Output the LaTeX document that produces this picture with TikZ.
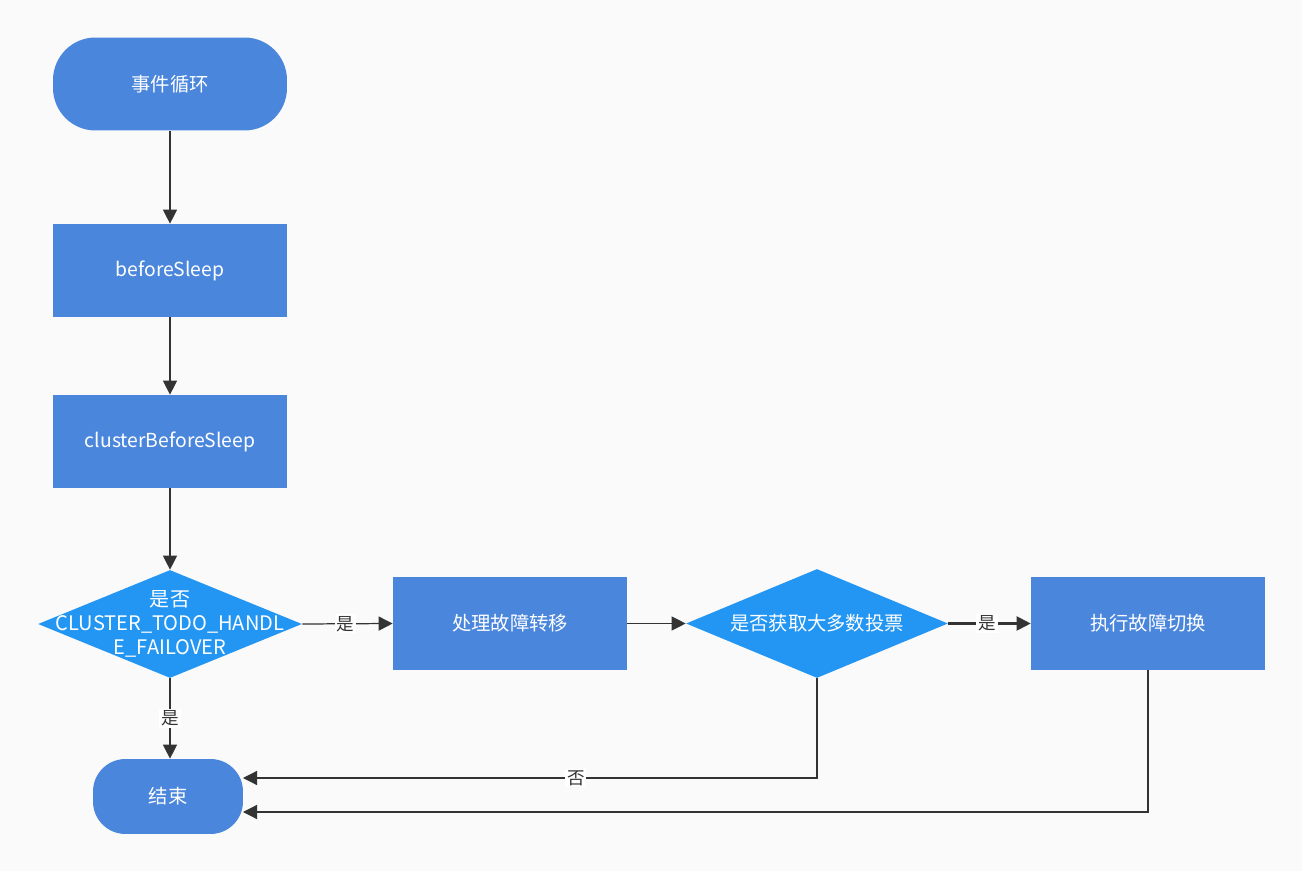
\documentclass[tikz,border=0pt]{standalone}
\usepackage{fontspec}
\setmainfont{Noto Sans CJK SC}
\usetikzlibrary{shapes.geometric,arrows.meta}
\definecolor{boxblue}{RGB}{74,134,219}
\definecolor{diablue}{RGB}{35,150,243}
\definecolor{bgcol}{RGB}{250,250,250}
\definecolor{linecol}{RGB}{51,51,51}
\tikzset{
  flowbox/.style={rectangle, fill=boxblue, text=white, minimum width=4.68cm, minimum height=1.86cm, inner sep=0pt, font=\fontsize{11}{13}\selectfont},
  termbox/.style={flowbox, rounded corners=0.85cm},
  decide/.style={diamond, fill=diablue, text=white, inner sep=0pt},
  flowline/.style={draw=linecol, line width=0.7pt, -{Triangle[length=8pt,width=8pt]}},
  yeslbl/.style={fill=white, inner sep=1pt, text=linecol, font=\fontsize{10}{11}\selectfont}
}
\begin{document}
\begin{tikzpicture}[x=0.02cm, y=-0.02cm]
        \fill[bgcol] (0,0) rectangle (1302,871);
        \useasboundingbox (0,0) rectangle (1302,871);
        % left column
        \node[termbox] (loop) at (170,84) {事件循环};
        \node[flowbox] (before) at (170,270.5) {beforeSleep};
        \node[flowbox] (cbefore) at (170,441.5) {clusterBeforeSleep};
        \node[decide, minimum width=5.28cm, minimum height=2.16cm] (todo) at (170,624) {};
        \node[align=center, text=white, font=\fontsize{11.4}{13.6}\selectfont] (todotxt) at (todo.center) {是否\\CLUSTER\_TODO\_HANDL\\E\_FAILOVER};
        \node[termbox, minimum width=3cm, minimum height=1.5cm, rounded corners=0.65cm] (stop) at (168,796.5) {结束};
        % right row
        \node[flowbox] (handle) at (510,623.5) {处理故障转移};
        \node[decide, minimum width=5.24cm, minimum height=2.18cm] (vote) at (817,623.5) {};
        \node[text=white, font=\fontsize{11}{13}\selectfont] (votetxt) at (vote.center) {是否获取大多数投票};
        \node[flowbox] (failover) at (1148,623.5) {执行故障切换};
        \coordinate (stopa) at (243,778);
        \coordinate (stopb) at (243,812);
        % connectors
        \draw[flowline] (loop) -- (before);
        \draw[flowline] (before) -- (cbefore);
        \draw[flowline] (cbefore) -- (todo.north);
        \draw[flowline] (todo.east) -- node[yeslbl, pos=0.48] (y1) {是} (handle.west);
        \draw[flowline] (handle.east) -- (vote.west);
        \draw[flowline, line width=1.2pt] (vote.east) -- node[yeslbl, pos=0.47] (y2) {是} (failover.west);
        \draw[flowline] (todo.south) -- node[yeslbl, pos=0.5] (y3) {是} (stop.north -| todo.south);
        \draw[flowline] (vote.south) |- node[yeslbl, pos=0.71] (n1) {否} (stopa);
        \draw[flowline] (failover.south) |- (stopb);
    \end{tikzpicture}
\end{document}
